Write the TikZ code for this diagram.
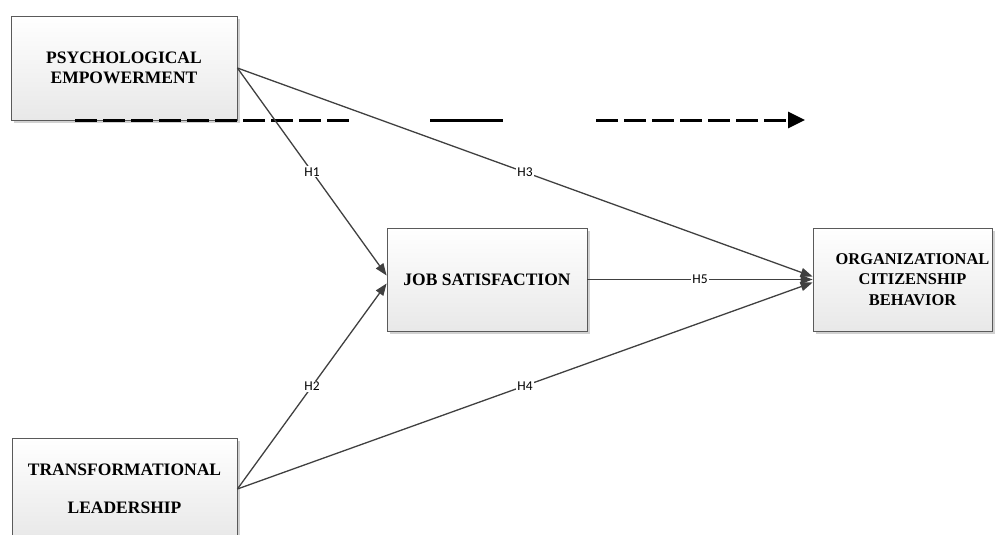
\documentclass[tikz,border=0pt]{standalone}
\usepackage{fontspec}
\setmainfont{Liberation Serif}
\newfontfamily\hfont{Carlito}
\usetikzlibrary{arrows.meta,shadows}
\definecolor{ink}{HTML}{404040}
\definecolor{frame}{HTML}{5a5a5a}

\begin{document}
\begin{tikzpicture}[x=1pt,y=-1pt,
  construct/.style={draw=frame,line width=0.8pt,top color=white,bottom color=black!9,align=center,inner sep=0pt,
    font=\bfseries\fontsize{17.5}{20.5}\selectfont,
    drop shadow={shadow xshift=3pt,shadow yshift=-3pt,fill=black!30,opacity=0.6}},
  hyp/.style={-{Triangle[length=12pt,width=9pt]},draw=ink,line width=1.3pt},
  hlbl/.style={font=\hfont\fontsize{13.5}{15}\selectfont,fill=white,inner sep=1pt,text=black},
  legend/.style={line width=3pt,draw=black},
  legdash/.style={legend,dash pattern=on 22pt off 6pt}]
  \useasboundingbox (0,0) rectangle (1001,535);
  % constructs
  \node[construct,minimum width=226pt,minimum height=104pt] (pe) at (124,68) {PSYCHOLOGICAL\\EMPOWERMENT};
  \node[construct,minimum width=225pt,minimum height=102pt,font=\bfseries\fontsize{17.5}{38}\selectfont] (tl) at (124.5,489) {TRANSFORMATIONAL\\LEADERSHIP};
  \node[construct,minimum width=200pt,minimum height=103pt] (js) at (487,279.5) {JOB SATISFACTION};
  \node[construct,minimum width=179pt,minimum height=103pt,
    label={[align=center,xshift=10pt,font=\bfseries\fontsize{16.4}{20.5}\selectfont]center:ORGANIZATIONAL\\CITIZENSHIP\\BEHAVIOR}] (ocb) at (902.5,279.5) {};
  % dashed / solid line across the top
  \coordinate (d1a) at (75,120);
  \coordinate (d1b) at (353,120);
  \coordinate (s1a) at (430,120);
  \coordinate (s1b) at (503,120);
  \coordinate (d2a) at (596,120);
  \coordinate (d2b) at (805,120);
  \draw[legdash] (d1a) -- (d1b);
  \draw[legend] (s1a) -- (s1b);
  \draw[legdash,-{Triangle[length=17pt,width=16pt]}] (d2a) -- (d2b);
  % hypotheses
  \draw[hyp] (pe.east) -- node[hlbl]{H1} ([yshift=4pt]js.west);
  \draw[hyp] (tl.east) -- node[hlbl]{H2} ([yshift=-4pt]js.west);
  \draw[hyp] (pe.east) -- node[hlbl]{H3} ([yshift=3pt]ocb.west);
  \draw[hyp] (tl.east) -- node[hlbl]{H4} ([yshift=-3pt]ocb.west);
  \draw[hyp] (js.east) -- node[hlbl]{H5} (ocb.west);
\end{tikzpicture}
\end{document}
